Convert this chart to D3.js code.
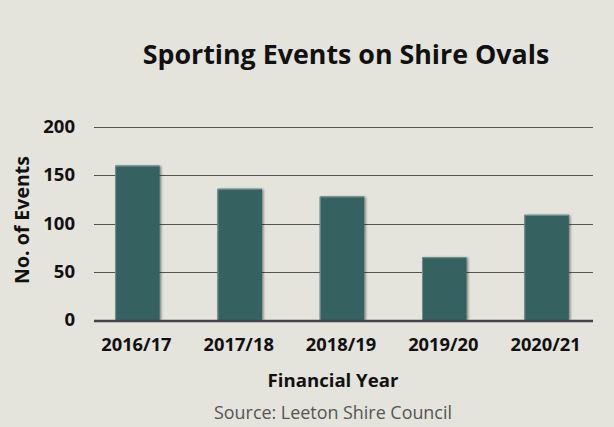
<!DOCTYPE html>
<html><head><meta charset="utf-8">
<script src="https://cdn.jsdelivr.net/npm/d3@7"></script>
<style>
html,body{margin:0;padding:0;background:#e4e3dc;}
text{font-family:"Open Sans",sans-serif;}
</style></head>
<body>
<svg id="c" width="614" height="427"></svg>
<script>
const categories = ["2016/17","2017/18","2018/19","2019/20","2020/21"];
const values = [160,136,128,65,109];
const yTicks = [0,50,100,150,200];
const title = "Sporting Events on Shire Ovals";
const xTitle = "Financial Year";
const yTitle = "No. of Events";
const source = "Source: Leeton Shire Council";

(function(){
const svg = d3.select("#c");
svg.append("rect").attr("width",614).attr("height",427).attr("fill","#e4e3dc");

const pLeft = 94, pRight = 593, pTop = 127, pBottom = 320;
const x = d3.scaleBand().domain(categories).range([pLeft-1.5,pRight-1.5]).paddingInner(0.565).paddingOuter(0.2215);
const y = d3.scaleLinear().domain([0,200]).range([pBottom,pTop]);

const defs = svg.append("defs");
const f = defs.append("filter").attr("id","sh").attr("x","-20%").attr("y","-20%").attr("width","140%").attr("height","140%");
f.append("feDropShadow").attr("dx",1.5).attr("dy",0.5).attr("stdDeviation",0.8).attr("flood-color","#000").attr("flood-opacity",0.45);

svg.append("g").selectAll("line").data(yTicks.filter(d=>d>0)).join("line")
  .attr("x1",pLeft).attr("x2",pRight)
  .attr("y1",d=>Math.round(y(d))+0.5).attr("y2",d=>Math.round(y(d))+0.5)
  .attr("stroke","#555").attr("stroke-width",1);

const bars = svg.append("g");
bars.selectAll("rect.b").data(values).join("rect").attr("class","b")
  .attr("x",(d,i)=>x(categories[i])).attr("width",x.bandwidth())
  .attr("y",d=>y(d)).attr("height",d=>pBottom-y(d))
  .attr("fill","#356260").attr("filter","url(#sh)");
bars.selectAll("path.hl").data(values).join("path").attr("class","hl")
  .attr("d",(d,i)=>{const x0=x(categories[i])+0.5, y0=y(d)+0.5; return `M${x0},${pBottom} L${x0},${y0} L${x0+x.bandwidth()-1},${y0}`;})
  .attr("fill","none").attr("stroke","#6f9391").attr("stroke-width",1);

svg.append("line").attr("x1",pLeft).attr("x2",pRight).attr("y1",pBottom+1).attr("y2",pBottom+1)
  .attr("stroke","#454545").attr("stroke-width",2.5);

svg.append("g").selectAll("text").data(yTicks).join("text")
  .attr("x",75).attr("y",d=>y(d)+6).attr("text-anchor","end")
  .attr("font-size",18.5).attr("font-weight","bold").attr("fill","#111").text(d=>d);

svg.append("g").selectAll("text").data(categories).join("text")
  .attr("x",d=>x(d)+x.bandwidth()/2-1).attr("y",351).attr("text-anchor","middle")
  .attr("font-size",18.3).attr("font-weight","bold").attr("fill","#111").text(d=>d);

svg.append("text").attr("x",333).attr("y",387).attr("text-anchor","middle")
  .attr("font-size",18.6).attr("font-weight","bold").attr("fill","#111").text(xTitle);

svg.append("text").attr("transform","translate(29,220) rotate(-90)").attr("text-anchor","middle")
  .attr("font-size",19.5).attr("font-weight","bold").attr("fill","#111").text(yTitle);

svg.append("text").attr("x",346).attr("y",64).attr("text-anchor","middle")
  .attr("font-size",26.8).attr("font-weight","bold").attr("fill","#111").text(title);

svg.append("text").attr("x",333).attr("y",419).attr("text-anchor","middle")
  .attr("font-size",17.9).attr("fill","#555").text(source);
})();
</script>
</body></html>
